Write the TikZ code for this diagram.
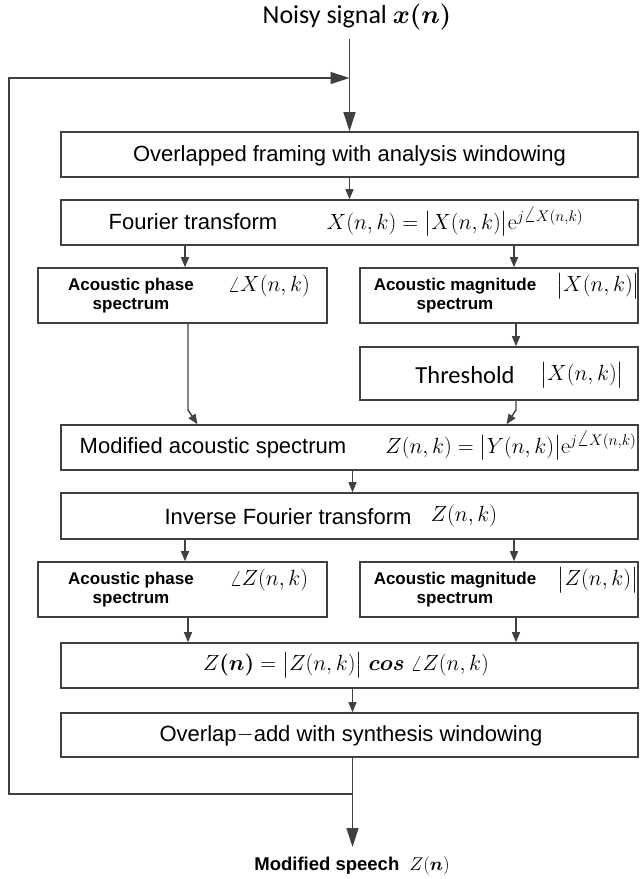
\documentclass[tikz,border=0pt]{standalone}
\usepackage{fix-cm}
\usepackage{amsmath}
\usepackage{bm}
\usepackage[no-math]{fontspec}
\setmainfont{Liberation Sans}
\newfontfamily\calfont{Carlito}
\usetikzlibrary{arrows.meta,calc}
\newcommand\myfs[2]{\fontsize{#1}{#2}\selectfont}
\tikzset{
  box/.style={draw=black!75, line width=1.6pt, inner sep=0pt, rectangle},
  lbl/.style={inner sep=0pt, text=black},
  conn/.style={draw=black!75, line width=1.4pt},
  arr/.style={conn, -{Triangle[length=10pt,width=8pt]}},
  bigarr/.style={conn, -{Triangle[length=19pt,width=12pt]}},
}
\begin{document}
\begin{tikzpicture}[x=1pt,y=-1pt]
\useasboundingbox (0,0) rectangle (640,879);
% boxes
\node[box, minimum width=577pt, minimum height=45pt] (b1) at (349.5,154.5) {};
\node[box, minimum width=577pt, minimum height=45pt] (b2) at (349.5,222.5) {};
\node[box, minimum width=289pt, minimum height=55pt] (ph1) at (182.5,295.5) {};
\node[box, minimum width=278pt, minimum height=55pt] (mg1) at (499,295.5) {};
\node[box, minimum width=278pt, minimum height=53pt] (th) at (499,373.5) {};
\node[box, minimum width=577pt, minimum height=45pt] (mod) at (349.5,447.5) {};
\node[box, minimum width=577pt, minimum height=46pt] (inv) at (349.5,516) {};
\node[box, minimum width=289pt, minimum height=55pt] (ph2) at (182.5,589.5) {};
\node[box, minimum width=278pt, minimum height=55pt] (mg2) at (499,589.5) {};
\node[box, minimum width=577pt, minimum height=45pt] (zn) at (349.5,665.5) {};
\node[box, minimum width=577pt, minimum height=44pt] (ola) at (349.5,735) {};
% texts
\node[lbl, font=\calfont\myfs{26}{30}] (title) at (357,17) {Noisy signal $\bm{x(n)}$};
\node[lbl, font=\myfs{22}{24}] (t1) at (349.5,156) {Overlapped framing with analysis windowing};
\node[lbl, font=\myfs{22}{24}] (t2a) at (193,222) {Fourier transform};
\node[lbl, font=\myfs{22}{24}] (t2b) at (455,222) {$X(n,k)=\bigl\lvert X(n,k)\bigr\rvert\mathrm{e}^{j\angle X(n,k)}$};
\node[lbl, font=\bfseries\myfs{17}{19}, align=center] (t3a) at (131,296) {Acoustic phase\\spectrum};
\node[lbl, font=\myfs{22}{24}] (t3b) at (269,286) {$\angle X(n,k)$};
\node[lbl, font=\bfseries\myfs{17}{19}, align=center] (t4a) at (455,296) {Acoustic magnitude\\spectrum};
\node[lbl, font=\myfs{22}{24}] (t4b) at (598,286) {$\bigl\lvert X(n,k)\bigr\rvert$};
\node[lbl, font=\calfont\myfs{24.5}{28}] (t5a) at (465,375) {Threshold};
\node[lbl, font=\myfs{22}{24}] (t5b) at (582,375) {$\bigl\lvert X(n,k)\bigr\rvert$};
\node[lbl, font=\myfs{22}{24}] (t6a) at (213,448) {Modified acoustic spectrum};
\node[lbl, font=\myfs{22}{24}] (t6b) at (511,446) {$Z(n,k)=\bigl\lvert Y(n,k)\bigr\rvert\mathrm{e}^{j\angle X(n,k)}$};
\node[lbl, font=\myfs{22}{24}] (t7a) at (288,517) {Inverse Fourier transform};
\node[lbl, font=\myfs{22}{24}] (t7b) at (464,516) {$Z(n,k)$};
\node[lbl, font=\bfseries\myfs{17}{19}, align=center] (t8a) at (131,590) {Acoustic phase\\spectrum};
\node[lbl, font=\myfs{22}{24}] (t8b) at (269,580) {$\angle Z(n,k)$};
\node[lbl, font=\bfseries\myfs{17}{19}, align=center] (t9a) at (455,590) {Acoustic magnitude\\spectrum};
\node[lbl, font=\myfs{22}{24}] (t9b) at (598,580) {$\bigl\lvert Z(n,k)\bigr\rvert$};
\node[lbl, font=\myfs{22}{24}] (t10) at (346,665) {$Z\bm{(n)}=\bigl\lvert Z(n,k)\bigr\rvert\ \bm{cos}\ \angle Z(n,k)$};
\node[lbl, font=\myfs{22}{24}] (t11) at (351,736) {Overlap\raisebox{0.1ex}{$-$}add with synthesis windowing};
\node[lbl, font=\myfs{18.5}{21}] (out) at (352,866) {\textbf{Modified speech}\ \ $Z(\bm{n})$};
% helper coordinates
\coordinate (tin) at (349.5,39);
\coordinate (xa) at (185,0);
\coordinate (xb) at (514,0);
\coordinate (xc) at (188,0);
\coordinate (xd) at (516,0);
\coordinate (xm) at (352.5,0);
\coordinate (kp) at (188,410);
\coordinate (kt) at (516,410);
\coordinate (ep) at (197.5,0);
\coordinate (et) at (506.5,0);
\coordinate (fb) at (352.5,794);
\coordinate (fl) at (9,794);
\coordinate (ft) at (9,78);
\coordinate (fj) at (349.5,78);
\coordinate (oe) at (352.5,847);
% connectors
\draw[bigarr] (tin) -- (b1.north);
\draw[bigarr] (fb) -- (fl) -- (ft) -- (fj);
\draw[arr] (b1.south) -- (b2.north);
\draw[arr] (b2.south -| xa) -- (ph1.north -| xa);
\draw[arr] (b2.south -| xb) -- (mg1.north -| xb);
\draw[arr] (mg1.south -| xd) -- (th.north -| xd);
\draw[arr] (ph1.south -| xc) -- (kp) -- (mod.north -| ep);
\draw[arr] (th.south -| xd) -- (kt) -- (mod.north -| et);
\draw[arr] (mod.south -| xm) -- (inv.north -| xm);
\draw[arr] (inv.south -| xa) -- (ph2.north -| xa);
\draw[arr] (inv.south -| xb) -- (mg2.north -| xb);
\draw[arr] (ph2.south -| xc) -- (zn.north -| xc);
\draw[arr] (mg2.south -| xd) -- (zn.north -| xd);
\draw[arr] (zn.south -| xm) -- (ola.north -| xm);
\draw[conn] (ola.south -| xm) -- (fb);
\draw[bigarr] (fb) -- (oe);
\end{tikzpicture}
\end{document}
